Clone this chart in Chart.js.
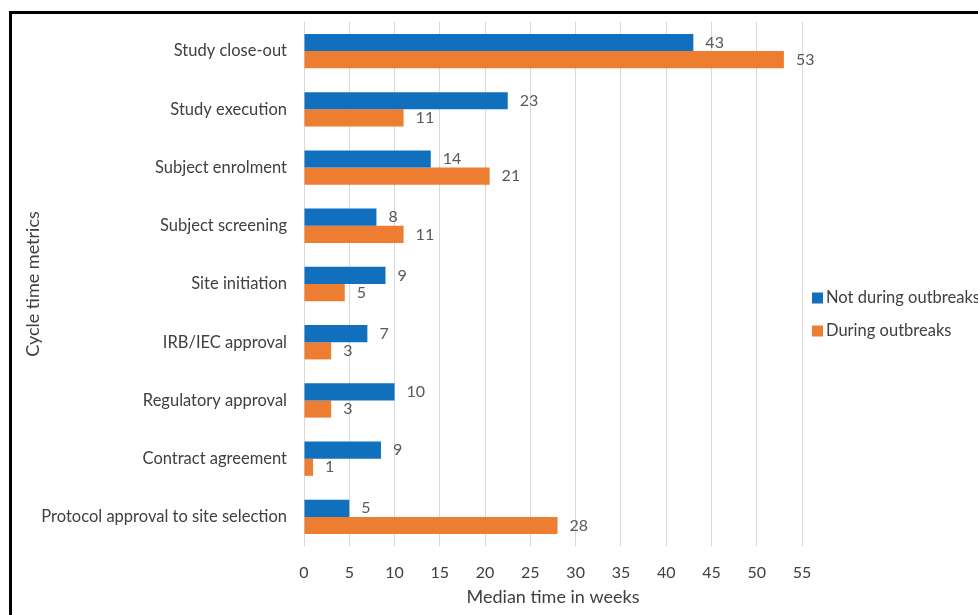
<!DOCTYPE html>
<html>
<head>
<meta charset="utf-8">
<script src="https://cdn.jsdelivr.net/npm/chart.js@4"></script>
<style>
  body { margin: 0; background: #fff; overflow: hidden; }
  #frame { position: absolute; left: 9px; top: 11px; width: 1100px; height: 700px;
           border-left: 3px solid #000; border-top: 3px solid #000; }
  #box { position: absolute; left: 12px; top: 14px; width: 1000px; height: 598px; }
</style>
</head>
<body>
<div id="frame"></div>
<div id="box"><canvas id="chart"></canvas></div>
<script>
// categories top to bottom
var categories = [
    'Study close-out',
    'Study execution',
    'Subject enrolment',
    'Subject screening',
    'Site initiation',
    'IRB/IEC approval',
    'Regulatory approval',
    'Contract agreement',
    'Protocol approval to site selection'
];
// median time in weeks
var notDuring = [43, 22.5, 14, 8, 9, 7, 10, 8.5, 5];
var during = [53, 11, 20.5, 11, 4.5, 3, 3, 1, 28];
var seriesNames = ['Not during outbreaks', 'During outbreaks'];
var seriesColors = ['#1170BD', '#ED7D31'];
var xMax = 55;
var xStep = 5;

var textColor = '#404040';
var fontFamily = 'Lato, "Open Sans", sans-serif';

// value labels at bar ends
var barLabels = {
    id: 'barLabels',
    afterDatasetsDraw: function(chart) {
        var ctx = chart.ctx;
        ctx.save();
        ctx.font = '16px ' + fontFamily;
        ctx.fillStyle = '#595959';
        ctx.textAlign = 'left';
        ctx.textBaseline = 'middle';
        chart.data.datasets.forEach(function(ds, i) {
            var meta = chart.getDatasetMeta(i);
            meta.data.forEach(function(bar, j) {
                ctx.fillText(String(Math.round(ds.data[j])), bar.x + 12, bar.y);
            });
        });
        ctx.restore();
    }
};

// legend on the right, next to the plot
var sideLegend = {
    id: 'sideLegend',
    afterDraw: function(chart) {
        var ctx = chart.ctx;
        var area = chart.chartArea;
        ctx.save();
        ctx.font = '16.5px ' + fontFamily;
        ctx.textBaseline = 'middle';
        chart.data.datasets.forEach(function(ds, i) {
            var y = area.top + 276 + i * 33;
            var x = area.right + 10;
            ctx.fillStyle = ds.backgroundColor;
            ctx.fillRect(x, y - 5.5, 11, 11);
            ctx.fillStyle = textColor;
            ctx.fillText(ds.label, x + 14, y);
        });
        ctx.restore();
    }
};

var ctx = document.getElementById('chart').getContext('2d');
new Chart(ctx, {
    type: 'bar',
    data: {
        labels: categories,
        datasets: [{
            label: seriesNames[0],
            data: notDuring,
            backgroundColor: seriesColors[0]
        }, {
            label: seriesNames[1],
            data: during,
            backgroundColor: seriesColors[1]
        }]
    },
    plugins: [barLabels, sideLegend],
    options: {
        indexAxis: 'y',
        responsive: true,
        maintainAspectRatio: false,
        animation: false,
        layout: { padding: { top: 8, left: 0, right: 210, bottom: 0 } },
        datasets: {
            bar: { barPercentage: 1.0, categoryPercentage: 0.59 }
        },
        scales: {
            x: {
                min: 0,
                max: xMax,
                ticks: { stepSize: xStep, color: textColor, padding: 17,
                         font: { family: fontFamily, size: 16 } },
                grid: { color: '#d9d9d9', drawTicks: false },
                border: { display: false },
                title: { display: true, text: 'Median time in weeks', color: textColor,
                         font: { family: fontFamily, size: 18 } },
                afterFit: function(scale) { scale.height = 66; }
            },
            y: {
                ticks: { color: textColor, padding: 9,
                         font: { family: fontFamily, size: 16.5 } },
                grid: { display: false },
                border: { display: false },
                title: { display: true, text: 'Cycle time metrics', color: textColor,
                         padding: { top: 10, bottom: 0 },
                         font: { family: fontFamily, size: 18 } },
                afterFit: function(scale) {
                    scale.width = 292;
                    scale.paddingTop = 0;
                    scale.paddingBottom = 0;
                }
            }
        },
        plugins: {
            legend: { display: false },
            tooltip: { enabled: false }
        }
    }
});
</script>
</body>
</html>
